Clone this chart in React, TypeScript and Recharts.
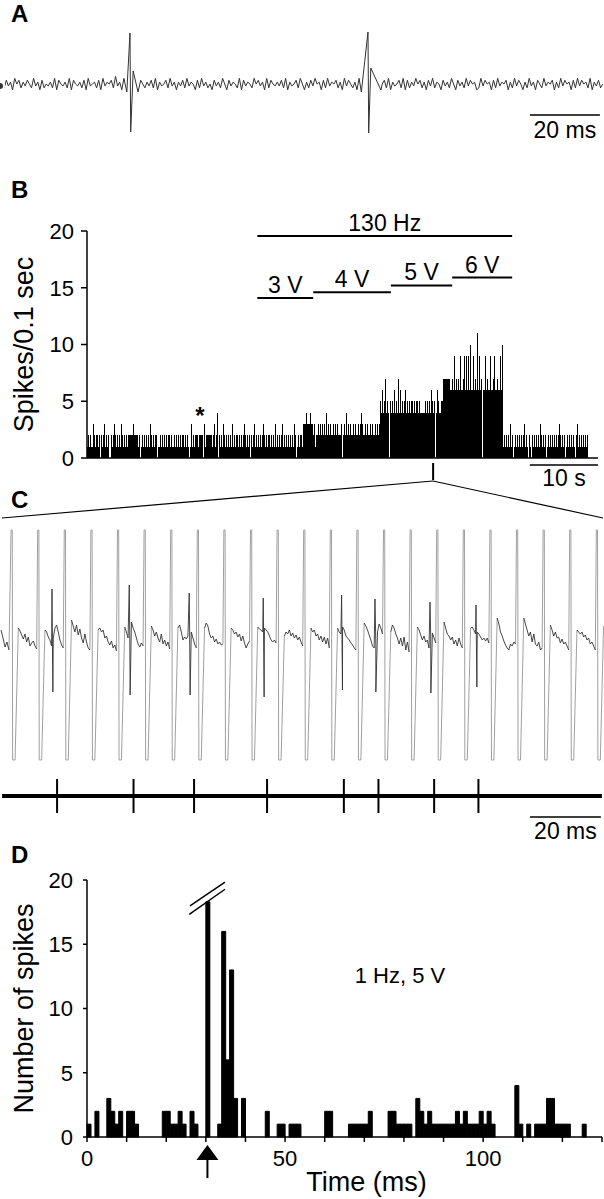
import React from 'react';
import {
  LineChart, Line, XAxis, YAxis, BarChart, Bar, ComposedChart, Scatter,
  ReferenceLine, ReferenceDot,
} from 'recharts';

const FONT = '"Liberation Sans", Arial, Helvetica, sans-serif';

// ---------------- Panel A : raw extracellular trace ----------------
const traceANoise = [
  '463746285736', '475384627354', '638275463827', '546372845637',
  '284657394628', '573846275364', '738264573846', '264738465273',
  '846352746385', '274653827465', '385746283754', '647382645738',
  '526374856273', '846573628475', '362847563827', '465738264573',
  '827364857362', '748365274638', '527463847562', '384756273846',
  '572638475263', '846275384657', '263847562738', '475638264735',
].join('');
const traceAStepMs = 0.6;
const traceAGain = 1.9;
const spikesA = [
  { t: 37.14, pts: [[-0.9, -7], [0, 52], [0.2, -47], [0.9, 14], [2.3, -7]] },
  { t: 105.14, pts: [[-1.9, -7], [0, 53], [0.2, -48], [0.8, 17], [3.7, -5]] },
];
const aDomainMs = 172.57;
const aScaleBarMs = [151.4, 171.4];

// ---------------- Panel B : rate histogram ----------------
const bBaseline =
  '1212113212 2120212312 1202123212 1213212121 2222232222 1201212121 2132121221 1212121212 2121121212 1212212121 ' +
  '0131212221 2222312222 2212312402 1213212121 2131212212 1212321212 2123121212 1232121221 2121312121 2312121212 ' +
  '1213212122 1';
const b4V = '3334333433 2312232323 2324232322 3232322232 3242323223 2322323432 2323223232 232323';
const b5V = '5464574545 4546454746 4545645454 5545455454 4444545454 6545465445 5';
const b6V = '7777777667 6967676966 7969696a66 9676b69676 6967669667 96676696a';
const bPost = '1212121312 0121212121 2312121021 2121213212 1201212121 2121232121 2012121212 1231212121 212';
const bBinSec = 0.15;
const bTicks = [0, 5, 10, 15, 20];
const trainStim = { label: '130 Hz', start: 25.0, end: 62.4, level: 19.55 };
const voltSteps = [
  { label: '3 V', start: 25.0, end: 33.2, level: 14.1 },
  { label: '4 V', start: 33.2, end: 44.6, level: 14.6 },
  { label: '5 V', start: 44.6, end: 53.6, level: 15.2 },
  { label: '6 V', start: 53.6, end: 62.4, level: 15.9 },
];
const bZoomMarkSec = 50.8;
const bScaleBarSec = [65, 75];

// ---------------- Panel C : expanded trace during 130 Hz ----------------
const cPeriodMs = 7.69;
const cFirstArtifactMs = 3.2;
const cRecoveryMs = 2.1;
const cSampleMs = 0.482;
const cArtifactTop = 110;
const cArtifactBottom = -120;
const cPreTrace = [[0.3, 10], [0.87, 2], [1.45, -7], [2.0, -2], [2.6, -10]];
const cPeriodTraces = [
  [12, 9, 5, 1, 6, -2, 3, -6, -3, -1, -6, -9],
  [10, 8, 3, 0, -6, 2, 12, 15, 8, 0, -5, -8],
  [20, 14, 8, 15, 5, 11, 2, -3, 6, -2, -8, -10],
  [10, 12, 8, 10, 2, 4, -2, -5, -1, -8, -5, -11],
  [13, 8, 2, 8, 18, 12, 8, 2, -4, -7, -3, -6],
  [14, 10, 4, 8, 2, -2, 6, -4, 0, -6, -2, -9],
  [12, 15, 8, 0, 3, 1, 4, 12, 8, 2, -4, -8],
  [12, 17, 14, 6, 2, 4, -2, 1, -4, -2, -5, -4],
  [12, 10, 6, 8, 3, 6, -1, 4, -3, -8, -4, -1],
  [13, 11, 10, 8, 12, 10, 8, 4, 0, -2, 0, -3],
  [4, 8, 6, 10, 4, 7, 2, 5, 0, 3, -2, -6],
  [12, 8, 10, 4, 6, 0, 4, -2, 3, -4, 2, -8],
  [12, 8, 6, 13, 10, 4, 2, 0, -3, -5, -8, -10],
  [17, 14, 10, 5, 0, -6, -8, -5, 8, 16, 12, 6],
  [8, 15, 12, 6, 2, -4, 2, -6, 3, -10, -2, -12],
  [13, 10, 5, 0, 4, -2, 0, -8, 4, 7, 2, -3],
  [18, 12, 6, 4, 0, 3, -4, 0, -6, 2, -4, -8],
  [12, 13, 10, 6, 8, 6, 3, 0, 2, -1, 2, -3],
  [22, 16, 8, 4, -1, -5, -8, -10, -4, -6, -2, -4],
  [22, 16, 10, 4, 8, -2, 6, -4, -6, -2, -10, -8],
  [15, 10, 4, 8, 2, 3, -3, 1, -4, -2, -6, -10],
  [10, 8, 6, 8, 3, 5, 0, 2, -4, -2, -6, -10],
  [14],
];
const cSpikes = [
  { t: 15.03, up: 51, down: -52 },
  { t: 37.37, up: 55, down: -55 },
  { t: 54.7, up: 47, down: -55 },
  { t: 76.1, up: 42, down: -57 },
  { t: 98.75, up: 45, down: -50 },
  { t: 108.4, up: 41, down: -52 },
  { t: 124.3, up: 38, down: -53 },
  { t: 137.6, up: 35, down: -47 },
];
const cRasterMs = [16.5, 38.6, 56.1, 77.2, 99.4, 109.4, 125.5, 138.3];
const cRasterLevel = -156;
const cDomainMs = 174.6;
const cRasterSpanMs = [0.6, 174.0];
const cScaleBarMs = [153.2, 173.7];
const cScaleBarLevel = -177;

// ---------------- Panel D : post-stimulus histogram ----------------
const dCounts = [
  1, 0, 2, 0, 0, 3, 2, 1, 2, 0,
  2, 2, 1, 0, 0, 0, 0, 0, 0, 2,
  2, 1, 1, 2, 1, 0, 2, 1, 0, 0,
  18.3, 0, 0, 1, 16, 6, 13, 3, 0, 3,
  0, 0, 0, 0, 0, 2, 0, 0, 1, 1,
  0, 1, 1, 1, 0, 0, 0, 0, 0, 0,
  2, 2, 0, 0, 0, 0, 1, 1, 1, 1,
  1, 2, 0, 0, 0, 0, 2, 2, 1, 1,
  1, 1, 0, 3, 2, 1, 2, 1, 1, 1,
  1, 1, 1, 2, 1, 2, 1, 1, 1, 2,
  1, 2, 1, 0, 0, 0, 0, 0, 4, 1,
  0, 1, 0, 1, 1, 1, 3, 3, 1, 1,
  1, 1, 0, 0, 0, 1, 0, 0, 0, 0,
];
const dXTicks = [0, 10, 20, 30, 40, 50, 60, 70, 80, 90, 100, 110, 120, 130];
const dYTicks = [0, 5, 10, 15, 20];
const dStimMs = 30.4;
const dBreakLines = [
  [{ x: 26.0, y: 17.98 }, { x: 34.83, y: 19.84 }],
  [{ x: 25.82, y: 17.33 }, { x: 34.83, y: 19.28 }],
];

// ---------------- data building ----------------
type Pt = { t: number; v: number | null };

const aData: Pt[] = (() => {
  const windows = spikesA.map((s) => [s.t + s.pts[0][0] - 0.3, s.t + s.pts[s.pts.length - 1][0] + 0.3]);
  const pts: Pt[] = [];
  traceANoise.split('').forEach((c, i) => {
    const t = i * traceAStepMs;
    if (windows.some(([a, b]) => t >= a && t <= b)) return;
    pts.push({ t, v: (parseInt(c, 10) - 4.5) * traceAGain });
  });
  spikesA.forEach((s) => s.pts.forEach(([dt, v]) => pts.push({ t: s.t + dt, v })));
  return pts.sort((a, b) => a.t - b.t);
})();

const bData = [bBaseline, b4V, b5V, b6V, bPost]
  .join('')
  .replace(/\s/g, '')
  .split('')
  .map((c, i) => ({ t: i * bBinSec + bBinSec / 2, v: parseInt(c, 16) }));

const { cTrace, cArtifact } = (() => {
  const segs: { t: number; v: number }[][] = [];
  segs.push(cPreTrace.map(([t, v]) => ({ t, v })));
  cPeriodTraces.forEach((arr, k) => {
    const t0 = cFirstArtifactMs + k * cPeriodMs + cRecoveryMs;
    segs.push(arr.map((v, j) => ({ t: t0 + j * cSampleMs, v })));
  });
  cSpikes.forEach((s) => {
    const seg = segs.find((sg) => sg.length > 1 && s.t > sg[0].t && s.t < sg[sg.length - 1].t);
    if (seg) {
      seg.push({ t: s.t, v: s.up }, { t: s.t + 0.25, v: s.down });
      seg.sort((a, b) => a.t - b.t);
    }
  });
  const trace: Pt[] = [];
  segs.forEach((sg) => {
    trace.push(...sg);
    trace.push({ t: sg[sg.length - 1].t + 0.01, v: null });
  });
  const art: Pt[] = [];
  for (let k = 0; k < segs.length - 1; k++) {
    const prev = segs[k][segs[k].length - 1];
    const next = segs[k + 1][0];
    const tk = cFirstArtifactMs + k * cPeriodMs;
    art.push(
      { t: prev.t, v: prev.v },
      { t: tk, v: cArtifactTop },
      { t: tk + 0.35, v: cArtifactTop },
      { t: tk + 0.45, v: cArtifactBottom },
      { t: tk + 1.15, v: cArtifactBottom },
      { t: next.t, v: next.v },
      { t: next.t + 0.005, v: null },
    );
  }
  return { cTrace: trace, cArtifact: art };
})();

const cRasterData = cRasterMs.map((t) => ({ t, v: cRasterLevel }));
const dData = dCounts.map((v, i) => ({ t: i + 0.5, v }));

// ---------------- shapes ----------------
const RasterTick = (p: any) => (
  <line x1={p.cx} x2={p.cx} y1={p.cy - 17} y2={p.cy + 17} stroke="#000" strokeWidth={2} />
);
const ArrowHead = (p: any) => (
  <polygon points={`${p.cx},${p.cy} ${p.cx - 11},${p.cy + 15} ${p.cx + 11},${p.cy + 15}`} fill="#000" />
);
const CrispBar = (p: any) =>
  p.height > 0 ? (
    <rect x={p.x} y={p.y} width={Math.max(p.width, 1)} height={p.height} fill="#000" shapeRendering="crispEdges" />
  ) : null;

const tickStyle = { fill: '#000', fontSize: 22 };
const lineStyle = { stroke: '#000', strokeWidth: 1.5 };

export default function App() {
  return (
    <div
      style={{
        position: 'absolute', left: 0, top: 0, width: 604, height: 1199,
        background: '#fff', fontFamily: FONT, overflow: 'hidden',
      }}
    >
      {/* Panel A */}
      <div style={{ position: 'absolute', left: 0, top: 0 }}>
        <LineChart width={604} height={145} data={aData} margin={{ top: 0, right: 0, bottom: 0, left: 0 }}>
          <XAxis type="number" dataKey="t" domain={[0, aDomainMs]} hide />
          <YAxis type="number" domain={[-60, 85]} hide />
          <Line dataKey="v" stroke="#333" strokeWidth={1} dot={false} isAnimationActive={false} />
          <ReferenceLine
            segment={[{ x: aScaleBarMs[0], y: -30 }, { x: aScaleBarMs[1], y: -30 }]}
            stroke="#000" strokeWidth={1.5} ifOverflow="visible"
            label={{ value: '20 ms', position: 'bottom', offset: 7, fontSize: 23, fill: '#000' }}
          />
        </LineChart>
      </div>

      {/* Panel B */}
      <div style={{ position: 'absolute', left: 0, top: 180 }}>
        <BarChart
          width={604} height={312} data={bData}
          margin={{ top: 51, right: 6, bottom: 32, left: 27 }}
          barCategoryGap={0} barGap={0}
        >
          <XAxis type="number" dataKey="t" domain={[0, 75]} tick={false} tickLine={false} axisLine={lineStyle} height={2} />
          <YAxis
            type="number" domain={[0, 20]} ticks={bTicks} width={60} tickSize={6} tickMargin={7}
            tick={tickStyle} axisLine={lineStyle} tickLine={lineStyle}
            label={{ value: 'Spikes/0.1 sec', angle: -90, position: 'insideLeft', offset: -4, fontSize: 27, fill: '#000', style: { textAnchor: 'middle' } }}
          />
          <Bar dataKey="v" fill="#000" shape={CrispBar} isAnimationActive={false} />
          <ReferenceLine
            segment={[{ x: trainStim.start, y: trainStim.level }, { x: trainStim.end, y: trainStim.level }]}
            stroke="#000" strokeWidth={2} ifOverflow="visible"
            label={{ value: trainStim.label, position: 'top', offset: 5, fontSize: 23, fill: '#000' }}
          />
          {voltSteps.map((s) => (
            <ReferenceLine
              key={s.label}
              segment={[{ x: s.start, y: s.level }, { x: s.end, y: s.level }]}
              stroke="#000" strokeWidth={2} ifOverflow="visible"
              label={{ value: s.label, position: 'top', offset: 5, fontSize: 23, fill: '#000' }}
            />
          ))}
          <ReferenceLine
            segment={[{ x: bZoomMarkSec, y: -0.44 }, { x: bZoomMarkSec, y: -1.94 }]}
            stroke="#000" strokeWidth={2} ifOverflow="visible"
          />
          <ReferenceLine
            segment={[{ x: bScaleBarSec[0], y: -0.62 }, { x: bScaleBarSec[1], y: -0.62 }]}
            stroke="#000" strokeWidth={1.5} ifOverflow="visible"
            label={{ value: '10 s', position: 'bottom', offset: 5, fontSize: 23, fill: '#000' }}
          />
        </BarChart>
      </div>

      {/* Panel C */}
      <div style={{ position: 'absolute', left: 0, top: 520 }}>
        <ComposedChart width={604} height={325} margin={{ top: 0, right: 0, bottom: 0, left: 0 }}>
          <XAxis type="number" dataKey="t" domain={[0, cDomainMs]} hide allowDataOverflow />
          <YAxis type="number" domain={[-205, 120]} hide allowDataOverflow />
          <Line data={cArtifact} dataKey="v" stroke="#a0a0a0" strokeWidth={1} dot={false} isAnimationActive={false} />
          <Line data={cTrace} dataKey="v" stroke="#333" strokeWidth={0.9} dot={false} isAnimationActive={false} />
          <ReferenceLine
            segment={[{ x: cRasterSpanMs[0], y: cRasterLevel }, { x: cRasterSpanMs[1], y: cRasterLevel }]}
            stroke="#000" strokeWidth={4} ifOverflow="visible"
          />
          <Scatter data={cRasterData} dataKey="v" shape={RasterTick} isAnimationActive={false} />
          <ReferenceLine
            segment={[{ x: cScaleBarMs[0], y: cScaleBarLevel }, { x: cScaleBarMs[1], y: cScaleBarLevel }]}
            stroke="#000" strokeWidth={1.5} ifOverflow="visible"
            label={{ value: '20 ms', position: 'bottom', offset: 6, fontSize: 23, fill: '#000' }}
          />
        </ComposedChart>
      </div>

      {/* Panel D */}
      <div style={{ position: 'absolute', left: 0, top: 860 }}>
        <BarChart
          width={604} height={339} data={dData}
          margin={{ top: 20, right: 2, bottom: 32, left: 27 }}
          barCategoryGap={0} barGap={0}
        >
          <XAxis
            type="number" dataKey="t" domain={[0, 130]} ticks={dXTicks} interval={0}
            tickFormatter={(v: number) => (v % 50 === 0 ? String(v) : '')}
            tickSize={5} tickMargin={8} tick={tickStyle} axisLine={lineStyle} tickLine={lineStyle} height={30}
            label={{ value: 'Time (ms)', position: 'bottom', offset: 5, dx: 22, fontSize: 27, fill: '#000' }}
          />
          <YAxis
            type="number" domain={[0, 20]} ticks={dYTicks} width={60} tickSize={4} tickMargin={10}
            tick={tickStyle} axisLine={lineStyle} tickLine={lineStyle}
            label={{ value: 'Number of spikes', angle: -90, position: 'insideLeft', offset: -4, fontSize: 27, fill: '#000', style: { textAnchor: 'middle' } }}
          />
          <Bar dataKey="v" fill="#000" stroke="#000" strokeWidth={1} isAnimationActive={false} />
          {dBreakLines.map((seg, i) => (
            <ReferenceLine key={i} segment={seg} stroke="#000" strokeWidth={1.5} ifOverflow="visible" />
          ))}
          <ReferenceLine
            segment={[{ x: dStimMs, y: -1.6 }, { x: dStimMs, y: -3.2 }]}
            stroke="#000" strokeWidth={2} ifOverflow="visible"
          />
          <ReferenceDot x={dStimMs} y={-0.62} r={0} shape={ArrowHead} ifOverflow="visible" />
        </BarChart>
      </div>

      {/* annotations */}
      <svg width={604} height={1199} style={{ position: 'absolute', left: 0, top: 0, pointerEvents: 'none' }}>
        <g fontFamily={FONT} fontWeight="bold" fontSize={24} fill="#000">
          <text x={11} y={22}>A</text>
          <text x={11} y={198}>B</text>
          <text x={11} y={508}>C</text>
          <text x={11} y={863}>D</text>
        </g>
        <text x={200} y={424} fontFamily={FONT} fontWeight="bold" fontSize={24} textAnchor="middle" fill="#000">*</text>
        <text x={400} y={983} fontFamily={FONT} fontSize={22} textAnchor="middle" fill="#000">1 Hz, 5 V</text>
        <line x1={433} y1={481} x2={2} y2={518} stroke="#000" strokeWidth={1.2} />
        <line x1={433} y1={481} x2={603} y2={518} stroke="#000" strokeWidth={1.2} />
      </svg>
    </div>
  );
}
